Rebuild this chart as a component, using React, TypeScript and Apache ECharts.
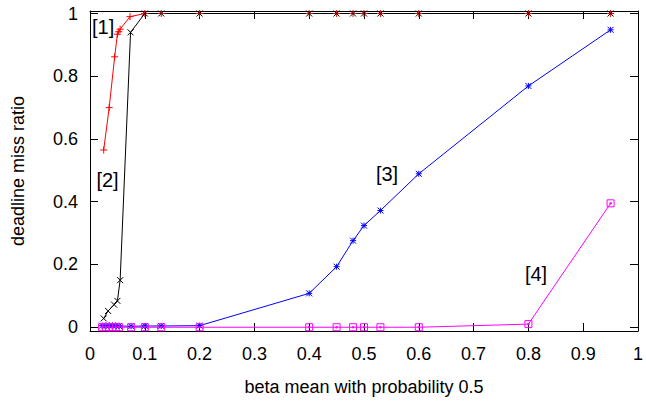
import React, { useEffect, useRef } from "react";
import * as echarts from "echarts";

// ---- data ----
const redX = [0.025, 0.035, 0.045, 0.05, 0.0525, 0.055, 0.073, 0.1, 0.13, 0.2, 0.4, 0.45, 0.48, 0.5, 0.53, 0.6, 0.8, 0.95];
const redY = [0.565, 0.70, 0.862, 0.934, 0.942, 0.95, 0.99, 1, 1, 1, 1, 1, 1, 1, 1, 1, 1, 1];

const blackX = [0.025, 0.033, 0.044, 0.05, 0.055, 0.074, 0.1, 0.13, 0.2, 0.4, 0.45, 0.48, 0.5, 0.53, 0.6, 0.8, 0.95];
const blackY = [0.028, 0.052, 0.072, 0.084, 0.15, 0.94, 1, 1, 1, 1, 1, 1, 1, 1, 1, 1, 1];

const blueX = [0.022, 0.029, 0.035, 0.041, 0.047, 0.053, 0.075, 0.1, 0.13, 0.2, 0.4, 0.45, 0.48, 0.5, 0.53, 0.6, 0.8, 0.95];
const blueY = [0.005, 0.005, 0.005, 0.005, 0.005, 0.004, 0.003, 0.004, 0.004, 0.005, 0.108, 0.193, 0.276, 0.324, 0.372, 0.489, 0.769, 0.948];

const magX = [0.022, 0.029, 0.035, 0.041, 0.047, 0.053, 0.075, 0.1, 0.13, 0.2, 0.4, 0.45, 0.48, 0.5, 0.53, 0.6, 0.8, 0.95];
const magY = [0, 0, 0, 0, 0, 0, 0, 0, 0, 0, 0, 0, 0, 0, 0, 0, 0.01, 0.395];

const xTicks = [0, 0.1, 0.2, 0.3, 0.4, 0.5, 0.6, 0.7, 0.8, 0.9, 1];
const yTicks = [0, 0.2, 0.4, 0.6, 0.8, 1];

const tagTexts = ["[1]", "[2]", "[3]", "[4]"];
const tagX = [0.024, 0.032, 0.542, 0.814];
const tagY = [0.957, 0.469, 0.49, 0.17];

const xTitle = "beta mean with probability 0.5";
const yTitle = "deadline miss ratio";

const FONT = "'Liberation Sans', Arial, Helvetica, sans-serif";

const zip = (xs: number[], ys: number[]) => xs.map((x, i) => [x, ys[i]]);

const SYM_PLUS = "path://M5,0L5,10M0,5L10,5";
const SYM_CROSS = "path://M0,0L10,10M10,0L0,10";
const SYM_STAR = "path://M0,0L10,10M10,0L0,10M5,0L5,10M0,5L10,5";
const SYM_SQ = "path://M0,0L10,0L10,10L0,10ZM4,4L6,4L6,6L4,6Z";

function mkSeries(name: string, xs: number[], ys: number[], color: string, symbol: string, size: number) {
  return {
    name,
    type: "line",
    data: zip(xs, ys),
    symbol,
    symbolSize: size,
    showSymbol: true,
    lineStyle: { color, width: 1 },
    itemStyle: { color: "rgba(0,0,0,0)", borderColor: color, borderWidth: 1 },
    emphasis: { disabled: true },
    z: 2,
  };
}

export default function App() {
  const ref = useRef<HTMLDivElement>(null);
  useEffect(() => {
    if (!ref.current) return;
    const chart = echarts.init(ref.current, undefined, { renderer: "svg" });
    const axisCommon = {
      type: "value",
      axisLine: { show: true, onZero: false, lineStyle: { color: "#000", width: 1 } },
      splitLine: { show: false },
    };
    chart.setOption({
      animation: false,
      backgroundColor: "#fff",
      grid: { left: 90, right: 6, top: 11, bottom: 73, containLabel: false },
      xAxis: [
        {
          ...axisCommon,
          position: "bottom",
          min: 0,
          max: 1,
          interval: 0.1,
          axisTick: { show: true, inside: true, length: 8, lineStyle: { color: "#000" }, customValues: xTicks },
          axisLabel: {
            show: true, color: "#000", fontSize: 18, fontFamily: FONT, margin: 14,
            customValues: xTicks, formatter: (v: number) => String(Math.round(v * 10) / 10),
          },
          name: xTitle,
          nameLocation: "middle",
          nameGap: 47,
          nameTextStyle: { color: "#000", fontSize: 18, fontFamily: FONT },
        },
        {
          ...axisCommon,
          position: "top",
          min: 0,
          max: 1,
          interval: 0.1,
          axisTick: { show: true, inside: true, length: 8, lineStyle: { color: "#000" }, customValues: xTicks },
          axisLabel: { show: false },
        },
      ],
      yAxis: [
        {
          ...axisCommon,
          position: "left",
          min: -0.012,
          max: 1.008,
          axisTick: { show: true, inside: true, length: 8, lineStyle: { color: "#000" }, customValues: yTicks },
          axisLabel: {
            show: true, color: "#000", fontSize: 18, fontFamily: FONT, margin: 12,
            customValues: yTicks, formatter: (v: number) => String(Math.round(v * 10) / 10),
          },
          name: yTitle,
          nameLocation: "middle",
          nameGap: 63,
          nameTextStyle: { color: "#000", fontSize: 18, fontFamily: FONT },
        },
        {
          ...axisCommon,
          position: "right",
          min: -0.012,
          max: 1.008,
          axisTick: { show: true, inside: true, length: 8, lineStyle: { color: "#000" }, customValues: yTicks },
          axisLabel: { show: false },
        },
      ],
      series: [
        mkSeries("1", redX, redY, "#ff0000", SYM_PLUS, 7),
        mkSeries("2", blackX, blackY, "#000000", SYM_CROSS, 6),
        mkSeries("3", blueX, blueY, "#0000ff", SYM_STAR, 6),
        mkSeries("4", magX, magY, "#ff00ff", SYM_SQ, 7),
        {
          name: "tags",
          type: "scatter",
          data: tagTexts.map((t, i) => ({ value: [tagX[i], tagY[i]], name: t })),
          symbolSize: 1,
          itemStyle: { color: "rgba(0,0,0,0)" },
          label: {
            show: true,
            position: "inside",
            formatter: (p: any) => p.name,
            color: "#000",
            opacity: 1,
            textBorderWidth: 0,
            fontSize: 20,
            fontFamily: FONT,
          },
          emphasis: { disabled: true },
          silent: true,
          z: 3,
        },
      ],
    });
    return () => chart.dispose();
  }, []);
  return <div ref={ref} style={{ width: 646, height: 404, position: "absolute", left: 0, top: 0 }} />;
}
